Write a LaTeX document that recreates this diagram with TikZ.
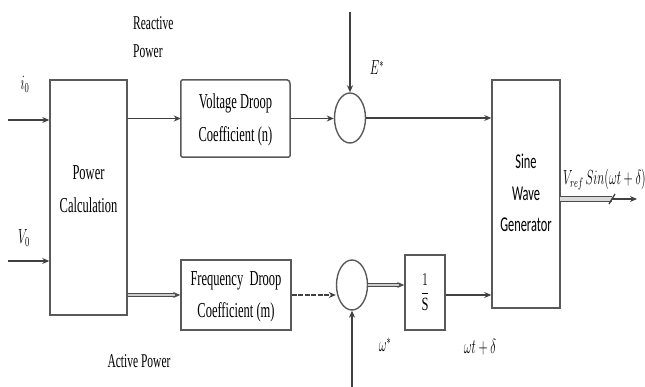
\documentclass[tikz,border=0pt]{standalone}
\usepackage{fontspec}
\setmainfont{Liberation Serif}
\newfontfamily\califont{Carlito}
\usepackage{graphicx}
\usetikzlibrary{arrows.meta, shapes.geometric}
% tall, narrow lettering as in the scanned figure
\newcommand{\tallt}[2][c]{\scalebox{1}[1.7]{\begin{tabular}{@{}#1@{}}#2\end{tabular}}}

\begin{document}
\begin{tikzpicture}[x=1pt, y=-1pt, >={Stealth[length=7pt, width=6pt]},
  blockbox/.style={draw=black!65, line width=1.5pt, inner sep=0pt, font=\fontsize{12.5}{19}\selectfont},
  sumnode/.style={draw=black!65, ellipse, line width=1.4pt, minimum width=31pt, minimum height=50pt, inner sep=0pt},
  sig/.style={->, draw=black!75, line width=1.6pt},
  dsig/.style={->, draw=black!70, double=white!80!black, double distance=1.6pt, line width=1.1pt},
  lbl/.style={inner sep=0pt, font=\fontsize{11.5}{16.5}\selectfont}]
  \useasboundingbox (0,0) rectangle (645,387);

  % blocks
  \node[blockbox, minimum width=77pt, minimum height=235pt] (pc) at (88.5,197.5) {};
  \node[inner sep=0pt, font=\fontsize{12.5}{19}\selectfont] (pctext) at ([yshift=8pt]pc.center) {\tallt{Power\\Calculation}};
  \node[inner sep=0pt, minimum width=109pt, minimum height=77pt, font=\fontsize{12.5}{19}\selectfont] (vd) at (235.5,118.5) {\tallt{Voltage Droop\\Coefficient (n)}};
  \draw[draw=black!65, line width=1.5pt, rounded corners=2pt] (vd.south west) -- (vd.north west) -- ([xshift=-9pt]vd.north east) .. controls (vd.north east) .. ([yshift=-12pt]vd.north east) -- (vd.south east) -- cycle;
  \node[blockbox, minimum width=110pt, minimum height=70pt] (fd) at (236,295) {\tallt{Frequency~~Droop\\Coefficient (m)}};
  \node[sumnode] (sume) at (350,118) {};
  \node[sumnode] (sumw) at (352,285) {};
  \node[blockbox, minimum width=40pt, minimum height=75pt] (integ) at (425,292.5) {\scalebox{1}[1.5]{$\displaystyle\frac{1}{\mathrm{S}}$}};
  \node[blockbox, minimum width=68pt, minimum height=228pt, font=\califont\fontsize{12.4}{18.5}\selectfont] (sw) at (526,194) {\tallt{Sine\\Wave\\Generator}};

  % free ends
  \coordinate (iin) at (8,120);
  \coordinate (vin) at (8,261);
  \coordinate (etop) at (350,12);
  \coordinate (wbot) at (352,387);
  \coordinate (swout) at (560,199);
  \coordinate (tick) at (612,199);
  \coordinate (out) at (637,199);

  % connectors
  \draw[sig] (iin) -- (iin -| pc.west);
  \draw[sig] (vin) -- (vin -| pc.west);
  \draw[sig] (pc.east |- vd.west) -- (vd.west);
  \draw[dsig] (pc.east |- fd.west) -- (fd.west);
  \draw[sig] (vd.east) -- (vd.east -| sume.west);
  \draw[sig, line width=1.2pt] (etop) -- (sume.north);
  \draw[sig] (sume.east) -- (sume.east -| sw.west);
  \draw[sig, dash pattern=on 5pt off 1.5pt] (fd.east) -- (fd.east -| sumw.west);
  \draw[sig, line width=1.2pt] (wbot) -- (sumw.south);
  \draw[dsig] (sumw.east) -- (sumw.east -| integ.west);
  \draw[sig, line width=1.9pt] (integ.east |- fd.east) -- (fd.east -| sw.west);
  \draw[draw=black!70, double=white!85!black, double distance=4pt, line width=1.1pt] (swout) -- (tick);
  \draw[->, draw=black!75, line width=1.5pt] (tick) -- (out);
  \draw[draw=black!75, line width=1.3pt] ([shift={(-3pt,-5pt)}]tick) -- ([shift={(3pt,5pt)}]tick);

  % labels
  \node[lbl, anchor=north west] (reac) at (133,10) {\tallt[l]{Reactive\\Power}};
  \node[lbl] (act) at (139,362) {\tallt{Active Power}};
  \node[lbl] (ilbl) at (25,84) {\scalebox{1}[1.7]{$i_0$}};
  \node[lbl] (vlbl) at (24,238) {\scalebox{1}[1.7]{$V_0$}};
  \node[lbl] (elbl) at (377,68) {\scalebox{1}[1.7]{$E^{*}$}};
  \node[lbl] (wlbl) at (385,345) {\scalebox{1}[1.7]{$\omega^{*}$}};
  \node[lbl, font=\fontsize{12}{18}\selectfont] (phlbl) at (480,347) {\scalebox{1}[1.7]{$\omega t+\delta$}};
  \node[lbl, anchor=west] (vref) at (563,180) {\scalebox{1}[1.7]{$V_{ref}\,Sin(\omega t+\delta)$}};
\end{tikzpicture}
\end{document}
